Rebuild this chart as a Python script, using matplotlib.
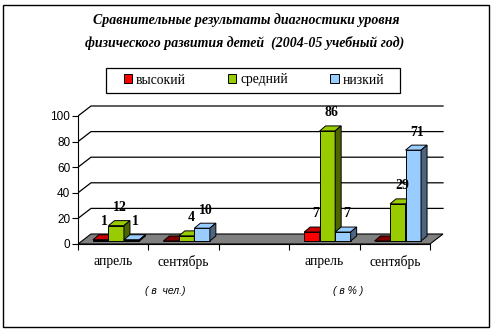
import numpy as np
import matplotlib
matplotlib.use('Agg')
from matplotlib import pyplot as plt
from matplotlib.patches import Polygon, Rectangle, Patch

# data
categories = ['апрель', 'сентябрь', '', 'апрель', 'сентябрь']
series_names = ['высокий', 'средний', 'низкий']
vysokiy = [1, 0, None, 7, 0]
sredniy = [12, 4, None, 86, 29]
nizkiy = [1, 10, None, 7, 71]
labels_shown = [[True, False, False, True, False],
                [True, True, False, True, True],
                [True, True, False, True, True]]
yticks = [0, 20, 40, 60, 80, 100]

front = ['#ff0000', '#99cc00', '#99ccff']
side = ['#800000', '#4d6600', '#4d6680']
top = ['#cc0000', '#99cc00', '#99ccff']

W, H = 493, 331
fig = plt.figure(figsize=(W / 100, H / 100), dpi=100)

# px per unit
PX = 70.4
PY = 1.28
x0, y0 = 78, 244
ax_w, ax_h = 370, 140
ax = fig.add_axes([x0 / W, (H - y0) / H, ax_w / W, ax_h / H])
ax.set_xlim(0, ax_w / PX)
ax.set_ylim(0, ax_h / PY)
ax.patch.set_visible(False)

# 3d offsets (data units)
wx, wy = 13 / PX, 10 / PY      # back wall
bx, by = 3 / PX, 3 / PY        # bar front face shift
dx, dy = 6 / PX, 5 / PY        # bar depth
bw = 15.5 / PX
n = len(categories)

# floor
floor = Polygon([(0, 0), (n, 0), (n + wx, wy), (wx, wy)], closed=True,
                facecolor='#808080', edgecolor='black', lw=0.8, zorder=1)
ax.add_patch(floor)
# gridlines on side and back wall
for v in yticks[1:]:
    ax.plot([0, wx, n + wx], [v, v + wy, v + wy], color='black', lw=0.9, zorder=0.5)

series = [vysokiy, sredniy, nizkiy]
for s, vals in enumerate(series):
    for i, v in enumerate(vals):
        if v is None:
            continue
        left = i + 0.5 - 1.5 * bw + bx + s * bw
        base = by
        ax.bar(left, v, width=bw, bottom=base, align='edge', color=front[s],
               edgecolor='black', lw=0.7, zorder=3 + s)
        t = base + v
        ax.add_patch(Polygon([(left, t), (left + bw, t), (left + bw + dx, t + dy), (left + dx, t + dy)],
                             closed=True, facecolor=top[s] if v > 0 else side[s],
                             edgecolor='black', lw=0.7, zorder=3 + s))
        ax.add_patch(Polygon([(left + bw, base), (left + bw + dx, base + dy), (left + bw + dx, t + dy), (left + bw, t)],
                             closed=True, facecolor=side[s], edgecolor='black', lw=0.7, zorder=3 + s))
        if labels_shown[s][i]:
            ax.annotate(str(v), (left + bw / 2, t), xytext=(3, 13), textcoords='offset points',
                        ha='center', va='center', fontsize=10, fontweight='bold',
                        family='Liberation Serif', zorder=10)

# axes
for sp in ['top', 'right']:
    ax.spines[sp].set_visible(False)
ax.spines['left'].set_bounds(0, 100)
ax.spines['bottom'].set_bounds(0, n)
ax.spines['left'].set_zorder(6)
ax.spines['bottom'].set_zorder(6)
ax.set_yticks(yticks)
ax.set_yticklabels([str(v) for v in yticks], family='Liberation Sans', fontsize=8.5)
ax.tick_params(axis='y', length=4, width=0.8, pad=1.5)
ax.set_xticks(np.arange(n + 1))
ax.set_xticklabels([''] * (n + 1))
ax.set_xticks(np.arange(n) + 0.5, minor=True)
ax.set_xticklabels(categories, minor=True, family='Liberation Serif', fontsize=9.8)
ax.tick_params(axis='x', which='major', length=4, width=0.8)
ax.tick_params(axis='x', which='minor', length=0, pad=8)

# title
fig.text(246 / W, 1 - 20 / H, 'Сравнительные результаты диагностики уровня',
         ha='center', va='center', fontsize=10, fontweight='bold', style='italic',
         family='Liberation Serif')
fig.text(245 / W, 1 - 43 / H, 'физического развития детей  (2004-05 учебный год)',
         ha='center', va='center', fontsize=10, fontweight='bold', style='italic',
         family='Liberation Serif')

# legend
handles = [Patch(facecolor=front[k], edgecolor='black', lw=0.7) for k in range(3)]
leg = fig.legend(handles, series_names, loc='center', ncol=3,
                 bbox_to_anchor=(254 / W, 1 - 80 / H),
                 frameon=False, prop={'family': 'Liberation Serif', 'size': 9.8},
                 handlelength=0.6, handleheight=0.6, handletextpad=0.3,
                 columnspacing=3.1, borderpad=0, borderaxespad=0)
fig.add_artist(Rectangle((106 / W, 1 - 93 / H), 294 / W, 25 / H, transform=fig.transFigure,
                         fill=False, edgecolor='black', lw=0.9))

# units under the groups
fig.text(165 / W, 1 - 291 / H, '( в  чел.)', ha='center', va='center',
         fontsize=7.5, style='italic', family='Liberation Sans')
fig.text(348 / W, 1 - 291 / H, '( в % )', ha='center', va='center',
         fontsize=7.5, style='italic', family='Liberation Sans')

# outer border
fig.add_artist(Rectangle((2.5 / W, 4.5 / H), 486 / W, 322 / H, transform=fig.transFigure,
                         fill=False, edgecolor='black', lw=1))

fig.savefig('out.png', dpi=100)
